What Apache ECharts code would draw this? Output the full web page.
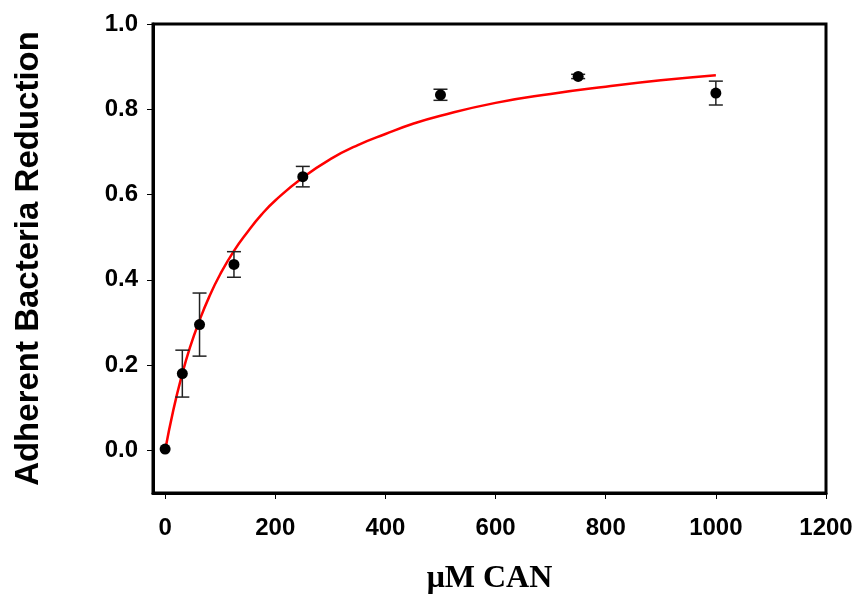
<!DOCTYPE html>
<html>
<head>
<meta charset="utf-8">
<script src="https://cdn.jsdelivr.net/npm/echarts@6/dist/echarts.min.js"></script>
<style>
  html, body { margin: 0; padding: 0; background: #fff; }
  #chart { width: 860px; height: 604px; }
</style>
</head>
<body>
<div id="chart"></div>
<script>
// Measured adherence reduction at each CAN concentration (µM)
const concentrations = [0, 31.25, 62.5, 125, 250, 500, 750, 1000];
const reduction      = [0.003, 0.180, 0.295, 0.436, 0.642, 0.834, 0.877, 0.838];
const reductionErr   = [0, 0.055, 0.074, 0.030, 0.024, 0.013, 0.005, 0.028];

// Fitted saturation curve (red line)
const fitX = [0, 15, 30, 45, 62.5, 80, 100, 125, 150, 175, 200, 250, 300, 350, 400, 450, 500, 600, 700, 800, 900, 1000];
const fitY = [0.0, 0.095, 0.174, 0.241, 0.305, 0.360, 0.413, 0.468, 0.513, 0.553, 0.586, 0.640, 0.683, 0.716, 0.742, 0.766, 0.785, 0.815, 0.836, 0.853, 0.868, 0.880];

// Axis ticks
const xTicks = [0, 200, 400, 600, 800, 1000, 1200];
const yTicks = [0, 0.2, 0.4, 0.6, 0.8, 1.0];

const points = concentrations.map((c, i) => [c, reduction[i]]);
const bars = concentrations.map((c, i) => [c, reduction[i] - reductionErr[i], reduction[i] + reductionErr[i]]);
const fit = fitX.map((x, i) => [x, fitY[i]]);

const chart = echarts.init(document.getElementById('chart'), null, { renderer: 'canvas' });

chart.setOption({
  animation: false,
  backgroundColor: '#ffffff',
  grid: {
    left: 153, right: 34, top: 24, bottom: 111,
    show: true, borderColor: '#000', borderWidth: 3, backgroundColor: 'transparent'
  },
  xAxis: {
    type: 'value',
    min: -22, max: 1200,
    name: 'μM CAN',
    nameLocation: 'middle',
    nameGap: 70,
    nameTextStyle: { fontFamily: 'Liberation Serif', fontWeight: 'bold', fontSize: 32, color: '#000' },
    axisLine: { show: true, onZero: false, lineStyle: { color: '#000', width: 3 } },
    axisTick: { show: true, customValues: xTicks, length: 6, lineStyle: { color: '#000', width: 1 } },
    axisLabel: {
      customValues: xTicks, margin: 23,
      formatter: v => String(v),
      fontFamily: 'Liberation Sans', fontWeight: 'bold', fontSize: 24, color: '#000'
    },
    splitLine: { show: false }
  },
  yAxis: {
    type: 'value',
    min: -0.1, max: 1.0,
    name: 'Adherent Bacteria Reduction',
    nameLocation: 'middle',
    nameGap: 108,
    nameRotate: 90,
    nameTextStyle: { fontFamily: 'Liberation Sans', fontWeight: 'bold', fontSize: 33, color: '#000' },
    axisLine: { show: true, onZero: false, lineStyle: { color: '#000', width: 3 } },
    axisTick: { show: true, customValues: yTicks, length: 6, lineStyle: { color: '#000', width: 1 } },
    axisLabel: {
      customValues: yTicks, margin: 15,
      formatter: v => v.toFixed(1),
      fontFamily: 'Liberation Sans', fontWeight: 'bold', fontSize: 24, color: '#000'
    },
    splitLine: { show: false }
  },
  series: [
    {
      type: 'line',
      data: fit,
      smooth: true,
      symbol: 'none',
      lineStyle: { color: '#ff0000', width: 2.5 },
      z: 2
    },
    {
      type: 'custom',
      data: bars,
      z: 3,
      renderItem: function (params, api) {
        const lo = api.value(1), hi = api.value(2);
        if (hi - lo <= 0) return null;
        const top = api.coord([api.value(0), hi]);
        const bot = api.coord([api.value(0), lo]);
        const half = 7;
        const style = { stroke: '#222', lineWidth: 1.5 };
        return {
          type: 'group',
          children: [
            { type: 'line', shape: { x1: top[0], y1: top[1], x2: bot[0], y2: bot[1] }, style },
            { type: 'line', shape: { x1: top[0] - half, y1: top[1], x2: top[0] + half, y2: top[1] }, style },
            { type: 'line', shape: { x1: bot[0] - half, y1: bot[1], x2: bot[0] + half, y2: bot[1] }, style }
          ]
        };
      }
    },
    {
      type: 'scatter',
      data: points,
      symbol: 'circle',
      symbolSize: 11,
      itemStyle: { color: '#000', opacity: 1 },
      z: 4
    }
  ]
});
</script>
</body>
</html>
